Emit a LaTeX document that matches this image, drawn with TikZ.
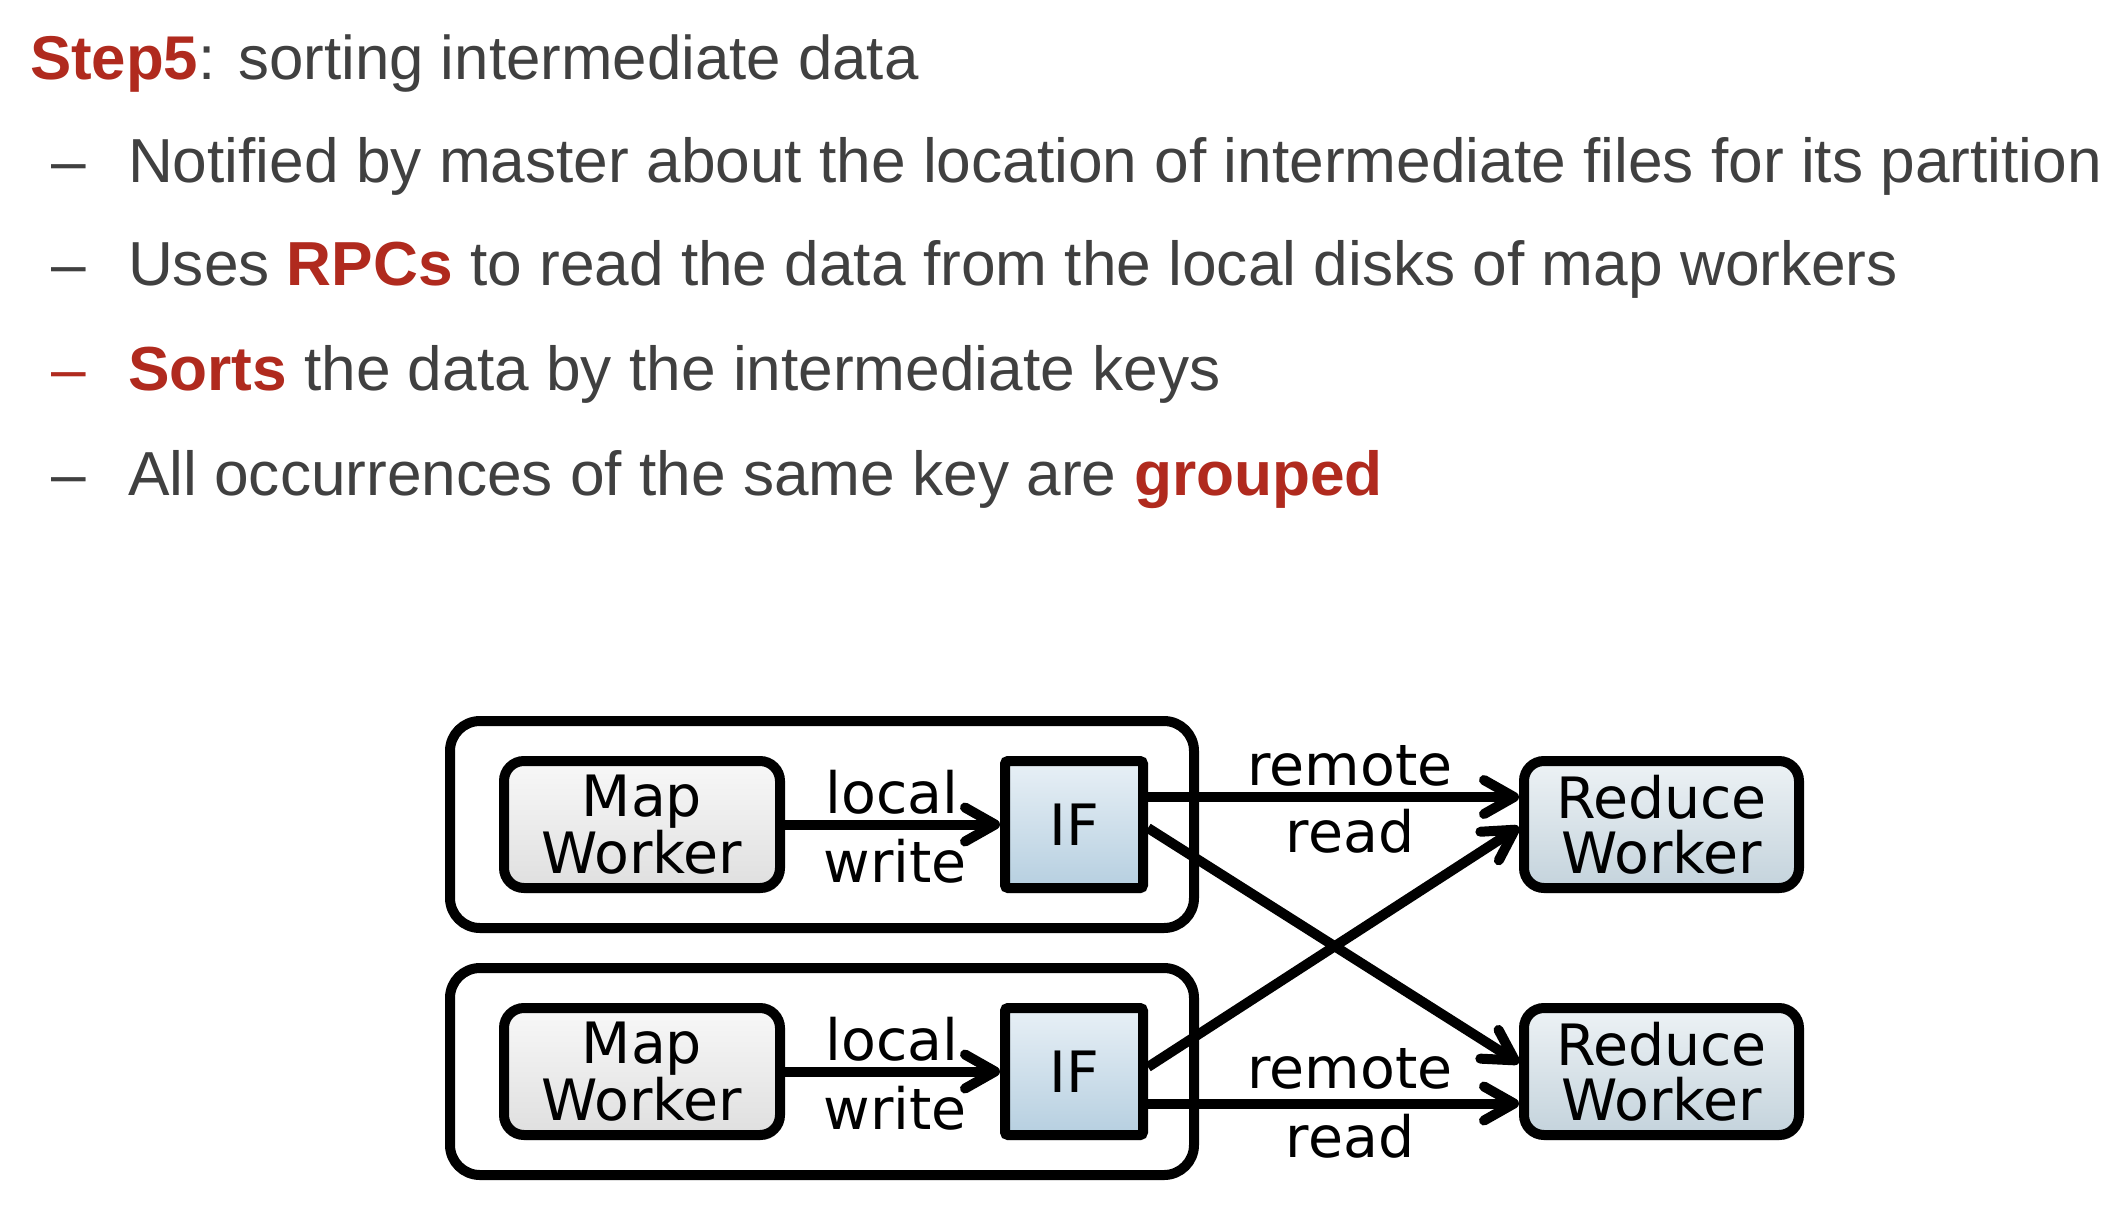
\documentclass[tikz,border=0pt]{standalone}
\usepackage{fontspec}
\setmainfont{Liberation Sans}
\newfontfamily\dfont{DejaVu Sans}
\usetikzlibrary{arrows.meta,shadows}
\definecolor{txtgrey}{HTML}{404040}
\definecolor{hired}{RGB}{176,42,30}
\definecolor{maptop}{HTML}{F8F8F8}
\definecolor{mapbot}{HTML}{DFDFDF}
\definecolor{iftop}{HTML}{E8F0F6}
\definecolor{ifbot}{HTML}{B6CFE0}
\definecolor{redtop}{HTML}{EDF2F5}
\definecolor{redbot}{HTML}{C4D3DC}
\begin{document}
\begin{tikzpicture}[x=0.5pt,y=-0.5pt,
  hdr/.style={anchor=base west,inner sep=0,outer sep=0,text=txtgrey,font=\fontsize{31.1}{36}\selectfont},
  grp/.style={draw=black,line width=5pt,rounded corners=15pt,minimum width=372pt,minimum height=103.5pt,inner sep=0},
  boxbase/.style={draw=black,line width=5pt,inner sep=0,minimum height=63.5pt,align=center,
     font=\dfont\fontsize{28.5}{27.5}\selectfont,
     drop shadow={shadow xshift=1pt,shadow yshift=-2.5pt,opacity=0.25,fill=black}},
  mapbox/.style={boxbase,rounded corners=10pt,minimum width=138pt,top color=maptop,bottom color=mapbot},
  ifbox/.style={boxbase,rounded corners=1.5pt,minimum width=69pt,top color=iftop,bottom color=ifbot},
  redbox/.style={boxbase,rounded corners=10pt,minimum width=137.5pt,top color=redtop,bottom color=redbot},
  arr/.style={line width=5pt,-{Straight Barb[length=15pt,width=17pt,round]}},
  lbl/.style={inner sep=0,font=\dfont\fontsize{28.5}{30}\selectfont}
]
\useasboundingbox (0,0) rectangle (2116,1212);

% header text
\node[hdr,font=\fontsize{30.9}{36}\selectfont] (h0) at (30,79) {\textcolor{hired}{\textbf{Step5}}: sorting intermediate data};
\node[hdr] (d1) at (51,182) {–};
\node[hdr] (t1) at (128,182) {Notified by master about the location of intermediate files for its partition};
\node[hdr] (d2) at (51,285) {–};
\node[hdr] (t2) at (128,285) {Uses \textcolor{hired}{\textbf{RPCs}} to read the data from the local disks of map workers};
\node[hdr,text=hired] (d3) at (51,390) {–};
\node[hdr] (t3) at (128,390) {\textcolor{hired}{\textbf{Sorts}} the data by the intermediate keys};
\node[hdr] (d4) at (51,495) {–};
\node[hdr] (t4) at (128,495) {All occurrences of the same key are \textcolor{hired}{\textbf{grouped}}};

% group boxes
\node[grp] (g1) at (822,824.5) {};
\node[grp] (g2) at (822,1071.5) {};

% workers and files
\node[mapbox] (m1) at (642,824.5) {Map\\Worker};
\node[mapbox] (m2) at (642,1071.5) {Map\\Worker};
\node[ifbox] (f1) at (1074,824.5) {IF};
\node[ifbox] (f2) at (1074,1071.5) {IF};
\node[redbox] (r1) at (1661.5,824.5) {Reduce\\Worker};
\node[redbox] (r2) at (1661.5,1071.5) {Reduce\\Worker};

% connectors
\draw[arr] (m1) -- (f1);
\draw[arr] (m2) -- (f2);
\draw[arr] ([yshift=13.75pt]f1.east) -- ([yshift=13.75pt]r1.west);
\draw[arr] ([yshift=-1.75pt]f1.east) -- ([yshift=4.25pt]r2.west);
\draw[arr] ([yshift=2.25pt]f2.east) -- ([yshift=-1.25pt]r1.west);
\draw[arr] ([yshift=-16pt]f2.east) -- ([yshift=-16pt]r2.west);

% labels
\node[lbl,anchor=base west] (lo1) at (825,813) {local};
\node[lbl,anchor=base west] (wr1) at (823,882) {write};
\node[lbl,anchor=base west] (lo2) at (825,1060) {local};
\node[lbl,anchor=base west] (wr2) at (823,1129) {write};
\node[lbl,anchor=base] (re1) at (1350,785) {remote};
\node[lbl,anchor=base] (rd1) at (1350,852) {read};
\node[lbl,anchor=base] (re2) at (1350,1088) {remote};
\node[lbl,anchor=base] (rd2) at (1350,1157) {read};
\end{tikzpicture}
\end{document}
